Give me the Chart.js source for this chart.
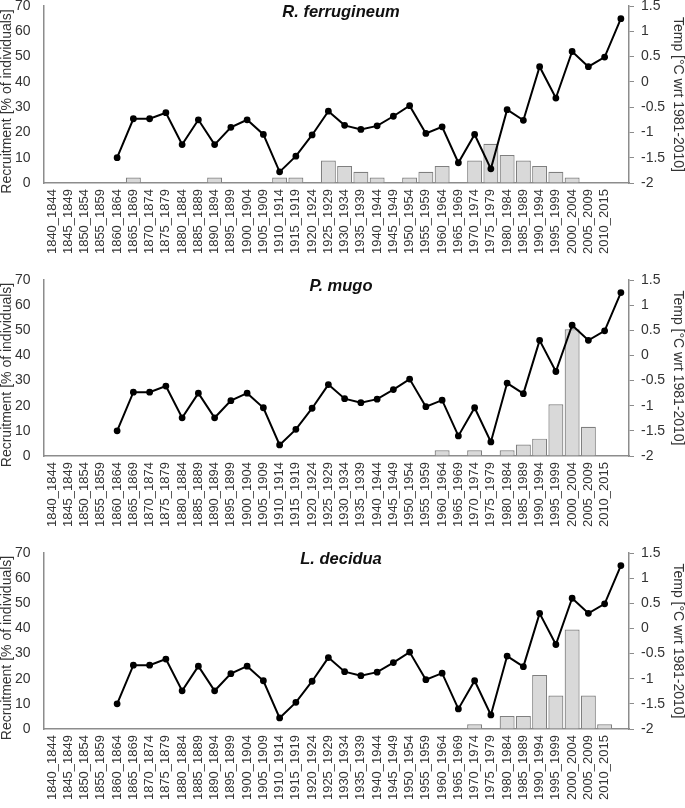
<!DOCTYPE html>
<html>
<head>
<meta charset="utf-8">
<script src="https://cdn.jsdelivr.net/npm/chart.js@4.4.0/dist/chart.umd.min.js"></script>
<style>
  html, body { margin: 0; padding: 0; background: #fff; }
  body { width: 685px; height: 808px; position: relative; overflow: hidden; }
  .panel { position: absolute; left: 0; width: 685px; }
</style>
</head>
<body>
<div class="panel" id="p1"><canvas id="c1"></canvas></div>
<div class="panel" id="p2"><canvas id="c2"></canvas></div>
<div class="panel" id="p3"><canvas id="c3"></canvas></div>
<script>
// Categories (5-year classes); last slot carries the final temperature point only
const categories = ["1840_1844","1845_1849","1850_1854","1855_1859","1860_1864","1865_1869","1870_1874","1875_1879","1880_1884","1885_1889","1890_1894","1895_1899","1900_1904","1905_1909","1910_1914","1915_1919","1920_1924","1925_1929","1930_1934","1935_1939","1940_1944","1945_1949","1950_1954","1955_1959","1960_1964","1965_1969","1970_1974","1975_1979","1980_1984","1985_1989","1990_1994","1995_1999","2000_2004","2005_2009","2010_2015",""];

// Temperature anomaly [°C wrt 1981-2010]
const temperature = [null,null,null,null,-1.50,-0.73,-0.73,-0.61,-1.24,-0.75,-1.24,-0.90,-0.75,-1.04,-1.78,-1.47,-1.05,-0.58,-0.86,-0.94,-0.87,-0.68,-0.47,-1.02,-0.89,-1.60,-1.04,-1.72,-0.55,-0.76,0.30,-0.32,0.60,0.30,0.49,1.25];

// Recruitment [% of individuals]
const ferrugineum = [0,0,0,0,0,2.2,0,0,0,0,2.2,0,0,0,2.2,2.2,0,8.9,6.7,4.4,2.2,0,2.2,4.4,6.7,0,8.9,15.5,11.1,8.9,6.7,4.4,2.2,0,0,0];
const mugo        = [0,0,0,0,0,0,0,0,0,0,0,0,0,0,0,0,0,0,0,0,0,0,0,0,2.25,0,2.25,0,2.25,4.6,6.9,20.6,50.4,11.6,0,0];
const decidua     = [0,0,0,0,0,0,0,0,0,0,0,0,0,0,0,0,0,0,0,0,0,0,0,0,0,0,1.85,0,5.15,5.15,21.5,13.3,39.6,13.3,1.85,0];

const species = ["R. ferrugineum", "P. mugo", "L. decidua"];
const recruitSets = [ferrugineum, mugo, decidua];

const leftTicks = [0,10,20,30,40,50,60,70];
const rightTicks = [-2,-1.5,-1,-0.5,0,0.5,1,1.5];

const leftTitle = 'Recruitment [% of individuals]';
const rightTitle = 'Temp [°C wrt 1981-2010]';

const FONT = "'Liberation Sans', Arial, sans-serif";
const AXIS = '#8c8c8c';
const TXT = '#333333';
const PAD_TOP = 22;

// plot top / bottom on the page, and the page bottom of each panel
const geom = [
  {top: 6, bottom: 183, end: 270},
  {top: 280, bottom: 456, end: 540},
  {top: 553, bottom: 729, end: 808}
];

const titlePlugin = {
  id: 'speciesTitle',
  afterDraw(chart, args, opts) {
    const ctx = chart.ctx;
    const ca = chart.chartArea;
    ctx.save();
    ctx.font = "italic bold 16.5px " + FONT;
    ctx.fillStyle = '#111';
    ctx.textAlign = 'center';
    ctx.textBaseline = 'middle';
    ctx.fillText(opts.text, 341, ca.top + 6);
    ctx.restore();
    // left axis title (slightly below the axis centre, as in the original)
    ctx.save();
    ctx.font = "14px " + FONT;
    ctx.fillStyle = TXT;
    ctx.textAlign = 'center';
    ctx.textBaseline = 'middle';
    ctx.translate(7.5, (ca.top + ca.bottom) / 2 + 7);
    ctx.rotate(-Math.PI / 2);
    ctx.fillText(opts.yTitle, 0, 0);
    ctx.restore();
  }
};

function makeChart(id, idx) {
  const g = geom[idx];
  const canvasTop = g.top - PAD_TOP;
  const h = g.end - canvasTop;
  const xAxisH = h - (g.bottom - canvasTop);
  const panel = document.getElementById('p' + (idx + 1));
  panel.style.top = canvasTop + 'px';
  panel.style.height = h + 'px';
  const el = document.getElementById(id);
  el.width = 685; el.height = h;
  el.style.width = '685px'; el.style.height = h + 'px';
  return new Chart(el, {
    data: {
      labels: categories,
      datasets: [
        {
          type: 'line',
          label: 'Temp',
          data: temperature,
          yAxisID: 'yT',
          borderColor: '#000',
          backgroundColor: '#000',
          borderWidth: 2,
          pointRadius: 2.4,
          pointHoverRadius: 2.4,
          tension: 0,
          spanGaps: false,
          order: 0
        },
        {
          type: 'bar',
          label: 'Recruitment',
          data: recruitSets[idx],
          yAxisID: 'yR',
          backgroundColor: '#d9d9d9',
          borderColor: '#7f7f7f',
          borderWidth: 1.2,
          barPercentage: 0.92,
          categoryPercentage: 1.0,
          order: 1
        }
      ]
    },
    options: {
      responsive: false,
      animation: false,
      devicePixelRatio: 1,
      layout: { padding: { top: PAD_TOP, left: 0, right: 0, bottom: 0 } },
      plugins: {
        legend: { display: false },
        tooltip: { enabled: false },
        speciesTitle: { text: species[idx], yTitle: leftTitle }
      },
      scales: {
        x: {
          type: 'category',
          grid: { display: false, drawTicks: false },
          border: { display: true, color: AXIS, width: 1.5 },
          ticks: {
            autoSkip: false,
            minRotation: 90,
            maxRotation: 90,
            padding: 6,
            color: TXT,
            font: { family: FONT, size: 13 }
          },
          afterFit(s) { s.height = xAxisH; }
        },
        yR: {
          type: 'linear',
          position: 'left',
          min: 0, max: 70,
          afterBuildTicks(s) { s.ticks = leftTicks.map(v => ({value: v})); },
          grid: { display: true, drawOnChartArea: false, drawTicks: true, tickLength: 12.5, color: 'rgba(0,0,0,0)' },
          border: { display: true, color: AXIS, width: 1.5 },
          ticks: {
            padding: 1,
            color: TXT,
            font: { family: FONT, size: 14 },
            callback: v => String(v)
          },
          title: { display: false },
          afterFit(s) { s.width = 44; }
        },
        yT: {
          type: 'linear',
          position: 'right',
          min: -2, max: 1.5,
          afterBuildTicks(s) { s.ticks = rightTicks.map(v => ({value: v})); },
          grid: { display: true, drawOnChartArea: false, drawTicks: true, tickLength: 5, color: AXIS, lineWidth: 1 },
          border: { display: true, color: AXIS, width: 1.5 },
          ticks: {
            padding: 7,
            color: TXT,
            font: { family: FONT, size: 14 },
            callback: v => String(v)
          },
          title: {
            display: true,
            text: rightTitle,
            color: TXT,
            padding: 0,
            font: { family: FONT, size: 14, lineHeight: 1 }
          },
          afterFit(s) { s.width = 56; }
        }
      }
    },
    plugins: [titlePlugin]
  });
}

makeChart('c1', 0);
makeChart('c2', 1);
makeChart('c3', 2);
</script>
</body>
</html>
